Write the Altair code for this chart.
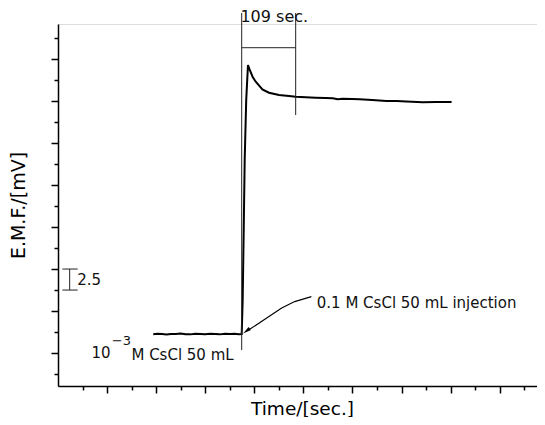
import altair as alt
import pandas as pd

# ---- data (time in s, EMF in mV relative to an arbitrary zero) ----
curve_t = [194, 203, 212, 221, 230, 240, 250, 260, 270, 280, 290, 300, 310, 320,
           330, 340, 350, 360, 368, 374.3, 376.3, 378.4, 380.4, 383.5, 387.1,
           391.6, 396.7, 402.9, 416.5, 429.9, 450.3, 470.7, 484.3, 504.7, 525,
           545, 559.7, 570, 580, 600, 614.7, 640, 669.1, 690, 710, 743.1, 770, 798, 802]
curve_v = [2.24, 2.30, 2.26, 2.20, 2.27, 2.25, 2.31, 2.24, 2.22, 2.28, 2.25, 2.23,
           2.29, 2.26, 2.22, 2.30, 2.25, 2.28, 2.23, 2.26, 6.30, 14.63, 22.95, 30.09,
           34.25, 33.54, 32.83, 32.27, 31.36, 30.96, 30.68, 30.57, 30.48, 30.41, 30.36,
           30.33, 30.29, 30.18, 30.24, 30.20, 30.17, 30.10, 29.98, 29.97, 29.92, 29.82,
           29.85, 29.85, 29.84]

# response-time markers
marker_t = [374.3, 484.3]
marker_v1 = [0.36, 28.3]
marker_v2 = [40.44, 40.44]
bracket_t1 = [374.3]
bracket_t2 = [484.3]
bracket_v = [36.31]

# 2.5 mV scale bar
bar_t = [23.8]
bar_v1 = [7.49]
bar_v2 = [9.99]
cap_t1 = [9.0, 9.0]
cap_t2 = [40.1, 40.1]
cap_v = [9.99, 7.49]

# annotation arrow
arrow_t = [516.3, 482.3, 455.8, 431.4, 407.0, 386.6]
arrow_v = [6.70, 6.12, 5.35, 4.40, 3.45, 2.68]
head_t = [384.0]
head_v = [2.62]

# texts
label_text = ["109 sec.", "0.1 M CsCl 50 mL injection", "10", "\u22123", "M CsCl 50 mL", "2.5"]
label_t = [371.7, 527.3, 68.1, 109.5, 149.6, 39.1]
label_v = [39.96, 5.98, 0.0, 1.45, -0.24, 8.68]
label_size = [16, 15, 15, 13, 15, 15]

x_ticks = list(range(50, 1000, 50))
y_ticks = [i * 2.5 for i in range(-1, 16)]

FONT = "DejaVu Sans"

xscale = alt.Scale(domain=[0, 976], nice=False, zero=False)
yscale = alt.Scale(domain=[-3.92, 39.13], nice=False, zero=False)

xaxis = alt.Axis(values=x_ticks, labels=False, grid=False, ticks=True,
                 tickSize={"condition": {"test": "datum.value % 100 === 0", "value": 7}, "value": 4},
                 tickColor="black", tickWidth=1.5, domainColor="black", domainWidth=1.5,
                 title="Time/[sec.]", titleFont=FONT, titleFontSize=18.5, titleFontWeight="normal",
                 titleColor="black", titleX=244, titleY=22, titleBaseline="middle", titleAlign="center")
yaxis = alt.Axis(values=y_ticks, labels=False, grid=False, ticks=True,
                 tickSize={"condition": {"test": "abs(datum.value % 5) < 0.01", "value": 7}, "value": 4},
                 tickColor="black", tickWidth=1.5, domainColor="black", domainWidth=1.5,
                 title="E.M.F./[mV]", titleFont=FONT, titleFontSize=19, titleFontWeight="normal",
                 titleColor="black", titleAngle=270, titleX=-39.3, titleY=181,
                 titleBaseline="middle", titleAlign="center")

X = alt.X("t:Q", scale=xscale, axis=xaxis)
Y = alt.Y("v:Q", scale=yscale, axis=yaxis)

curve_df = pd.DataFrame({"t": curve_t, "v": curve_v, "o": range(len(curve_t))})
curve = alt.Chart(curve_df).mark_line(color="black", strokeWidth=2).encode(
    x=X, y=Y, order="o:Q")

mk_df = pd.DataFrame({"t": marker_t, "v": marker_v1, "v2": marker_v2})
markers = alt.Chart(mk_df).mark_rule(color="#222", strokeWidth=1).encode(x=X, y=Y, y2="v2:Q")

br_df = pd.DataFrame({"t": bracket_t1, "t2": bracket_t2, "v": bracket_v})
bracket = alt.Chart(br_df).mark_rule(color="#222", strokeWidth=1).encode(x=X, x2="t2:Q", y=Y)

bar_df = pd.DataFrame({"t": bar_t, "v": bar_v1, "v2": bar_v2})
bar = alt.Chart(bar_df).mark_rule(color="#222", strokeWidth=1).encode(x=X, y=Y, y2="v2:Q")
cap_df = pd.DataFrame({"t": cap_t1, "t2": cap_t2, "v": cap_v})
caps = alt.Chart(cap_df).mark_rule(color="#222", strokeWidth=1).encode(x=X, x2="t2:Q", y=Y)

arr_df = pd.DataFrame({"t": arrow_t, "v": arrow_v, "o": range(len(arrow_t))})
arrow = alt.Chart(arr_df).mark_line(color="black", strokeWidth=1.2).encode(x=X, y=Y, order="o:Q")
head_df = pd.DataFrame({"t": head_t, "v": head_v})
head = alt.Chart(head_df).mark_point(shape="M0,-1L0.45,1L-0.45,1Z", filled=True, color="black",
                                     size=70, angle=232, opacity=1).encode(x=X, y=Y)

txt_df = pd.DataFrame({"t": label_t, "v": label_v, "label": label_text, "s": label_size})
texts = alt.Chart(txt_df).mark_text(font=FONT, align="left", baseline="middle", color="#111").encode(
    x=X, y=Y, text="label:N", size=alt.Size("s:Q", scale=None))

chart = alt.layer(curve, markers, bracket, bar, caps, arrow, head, texts).properties(
    width=479, height=362,
    autosize=alt.AutoSizeParams(type="none"),
    padding={"left": 50, "top": 16, "right": 0, "bottom": 31},
).configure_view(stroke=None).configure(background="white")

chart.save("out.html", embed_options={"renderer": "svg", "actions": False})
